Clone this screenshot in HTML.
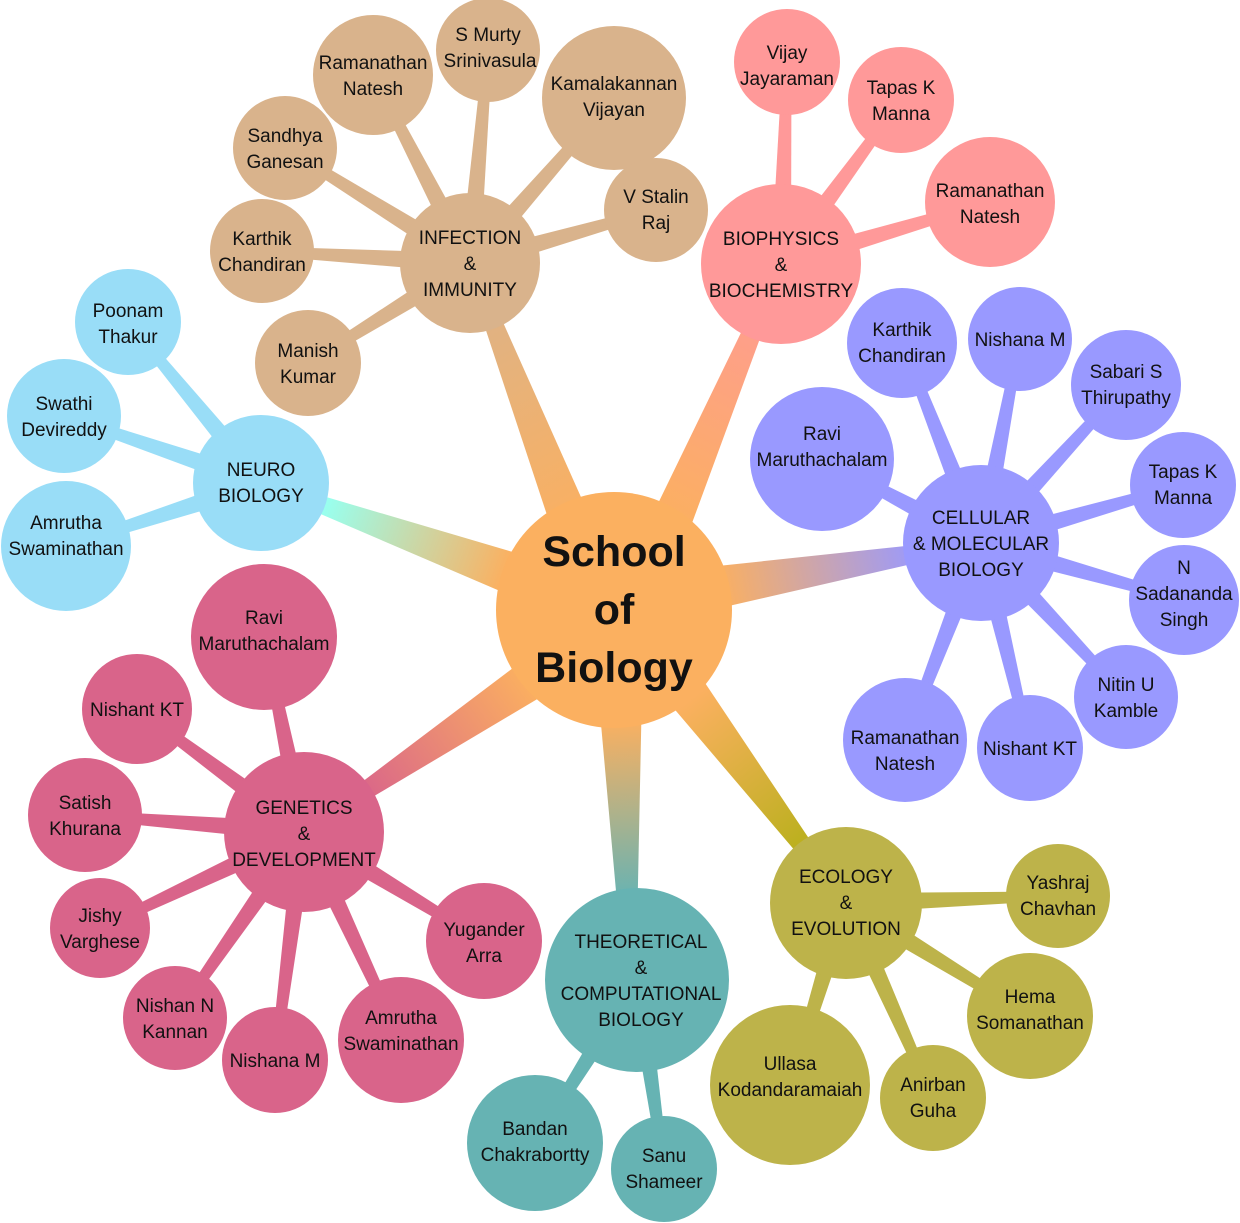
<!DOCTYPE html>
<html><head><meta charset="utf-8">
<style>
html,body{margin:0;padding:0;background:#fff;}
svg{display:block;}
text{font-family:"Liberation Sans",sans-serif;font-size:19px;fill:#111;text-anchor:middle;}
.c{font-size:43px;font-weight:bold;}
</style></head><body>
<svg id="s" width="1240" height="1223" viewBox="0 0 1240 1223" xmlns="http://www.w3.org/2000/svg">
<defs>
<linearGradient id="gInf" gradientUnits="userSpaceOnUse" x1="600" y1="520" x2="470" y2="263"><stop offset="0" stop-color="#FBB060"/><stop offset="1" stop-color="#D9B38C"/></linearGradient>
<linearGradient id="gBio" gradientUnits="userSpaceOnUse" x1="660" y1="520" x2="781" y2="264"><stop offset="0" stop-color="#FBB060"/><stop offset="1" stop-color="#FF9999"/></linearGradient>
<linearGradient id="gCel" gradientUnits="userSpaceOnUse" x1="720" y1="590" x2="920" y2="550"><stop offset="0" stop-color="#FBB060"/><stop offset="1" stop-color="#9999FF"/></linearGradient>
<linearGradient id="gNeu" gradientUnits="userSpaceOnUse" x1="510" y1="560" x2="330" y2="495"><stop offset="0" stop-color="#FBB060"/><stop offset="1" stop-color="#99FFEE"/></linearGradient>
<linearGradient id="gGen" gradientUnits="userSpaceOnUse" x1="530" y1="680" x2="360" y2="800"><stop offset="0" stop-color="#FBB060"/><stop offset="1" stop-color="#D9648A"/></linearGradient>
<linearGradient id="gThe" gradientUnits="userSpaceOnUse" x1="622" y1="720" x2="630" y2="900"><stop offset="0" stop-color="#FBB060"/><stop offset="1" stop-color="#66B3B3"/></linearGradient>
<linearGradient id="gEco" gradientUnits="userSpaceOnUse" x1="690" y1="700" x2="800" y2="840"><stop offset="0" stop-color="#FBB060"/><stop offset="1" stop-color="#BDB020"/></linearGradient>
</defs>
<g id="conn"></g>
<g id="circ">
<circle cx="614" cy="610" r="118" fill="#FBB060"/>
<g fill="#D9B38C">
<circle cx="470" cy="263" r="70"/>
<circle cx="373" cy="75" r="60"/><circle cx="488" cy="50" r="52"/><circle cx="614" cy="98" r="72"/>
<circle cx="285" cy="148" r="52"/><circle cx="656" cy="210" r="52"/><circle cx="262" cy="251" r="52"/><circle cx="308" cy="363" r="53"/>
</g>
<g fill="#FF9999">
<circle cx="781" cy="264" r="80"/><circle cx="787" cy="62" r="53"/><circle cx="901" cy="100" r="53"/><circle cx="990" cy="202" r="65"/>
</g>
<g fill="#9999FF">
<circle cx="981" cy="543" r="78"/><circle cx="902" cy="343" r="55"/><circle cx="1020" cy="339" r="52"/><circle cx="1126" cy="385" r="55"/>
<circle cx="822" cy="459" r="72"/><circle cx="1183" cy="485" r="53"/><circle cx="1184" cy="600" r="55"/><circle cx="1126" cy="697" r="52"/>
<circle cx="905" cy="740" r="62"/><circle cx="1030" cy="748" r="53"/>
</g>
<g fill="#99DDF7">
<circle cx="261" cy="483" r="68"/><circle cx="128" cy="322" r="53"/><circle cx="64" cy="416" r="57"/><circle cx="66" cy="546" r="65"/>
</g>
<g fill="#D9648A">
<circle cx="304" cy="832" r="80"/><circle cx="264" cy="637" r="73"/><circle cx="137" cy="709" r="55"/><circle cx="85" cy="815" r="57"/>
<circle cx="100" cy="928" r="50"/><circle cx="175" cy="1018" r="52"/><circle cx="275" cy="1060" r="53"/><circle cx="401" cy="1040" r="63"/><circle cx="484" cy="941" r="58"/>
</g>
<g fill="#66B3B3">
<circle cx="637" cy="980" r="92"/><circle cx="535" cy="1143" r="68"/><circle cx="664" cy="1169" r="53"/>
</g>
<g fill="#BDB34A">
<circle cx="846" cy="903" r="76"/><circle cx="1058" cy="896" r="52"/><circle cx="1030" cy="1016" r="63"/><circle cx="933" cy="1098" r="53"/><circle cx="790" cy="1085" r="80"/>
</g>
</g>
<g>
<text class="c" x="614" y="566">School</text><text class="c" x="614" y="624">of</text><text class="c" x="614" y="682">Biology</text>

<text x="470" y="244">INFECTION</text><text x="470" y="270">&amp;</text><text x="470" y="296">IMMUNITY</text>
<text x="373" y="69">Ramanathan</text><text x="373" y="95">Natesh</text>
<text x="488" y="41">S Murty</text><text x="490" y="67">Srinivasula</text>
<text x="614" y="90">Kamalakannan</text><text x="614" y="116">Vijayan</text>
<text x="285" y="142">Sandhya</text><text x="285" y="168">Ganesan</text>
<text x="656" y="203">V Stalin</text><text x="656" y="229">Raj</text>
<text x="262" y="245">Karthik</text><text x="262" y="271">Chandiran</text>
<text x="308" y="357">Manish</text><text x="308" y="383">Kumar</text>

<text x="781" y="245">BIOPHYSICS</text><text x="781" y="271">&amp;</text><text x="781" y="297">BIOCHEMISTRY</text>
<text x="787" y="59">Vijay</text><text x="787" y="85">Jayaraman</text>
<text x="901" y="94">Tapas K</text><text x="901" y="120">Manna</text>
<text x="990" y="197">Ramanathan</text><text x="990" y="223">Natesh</text>

<text x="981" y="524">CELLULAR</text><text x="981" y="550">&amp; MOLECULAR</text><text x="981" y="576">BIOLOGY</text>
<text x="902" y="336">Karthik</text><text x="902" y="362">Chandiran</text>
<text x="1020" y="346">Nishana M</text>
<text x="1126" y="378">Sabari S</text><text x="1126" y="404">Thirupathy</text>
<text x="822" y="440">Ravi</text><text x="822" y="466">Maruthachalam</text>
<text x="1183" y="478">Tapas K</text><text x="1183" y="504">Manna</text>
<text x="1184" y="574">N</text><text x="1184" y="600">Sadananda</text><text x="1184" y="626">Singh</text>
<text x="1126" y="691">Nitin U</text><text x="1126" y="717">Kamble</text>
<text x="905" y="744">Ramanathan</text><text x="905" y="770">Natesh</text>
<text x="1030" y="755">Nishant KT</text>

<text x="261" y="476">NEURO</text><text x="261" y="502">BIOLOGY</text>
<text x="128" y="317">Poonam</text><text x="128" y="343">Thakur</text>
<text x="64" y="410">Swathi</text><text x="64" y="436">Devireddy</text>
<text x="66" y="529">Amrutha</text><text x="66" y="555">Swaminathan</text>

<text x="304" y="814">GENETICS</text><text x="304" y="840">&amp;</text><text x="304" y="866">DEVELOPMENT</text>
<text x="264" y="624">Ravi</text><text x="264" y="650">Maruthachalam</text>
<text x="137" y="716">Nishant KT</text>
<text x="85" y="809">Satish</text><text x="85" y="835">Khurana</text>
<text x="100" y="922">Jishy</text><text x="100" y="948">Varghese</text>
<text x="175" y="1012">Nishan N</text><text x="175" y="1038">Kannan</text>
<text x="275" y="1067">Nishana M</text>
<text x="401" y="1024">Amrutha</text><text x="401" y="1050">Swaminathan</text>
<text x="484" y="936">Yugander</text><text x="484" y="962">Arra</text>

<text x="641" y="948">THEORETICAL</text><text x="641" y="974">&amp;</text><text x="641" y="1000">COMPUTATIONAL</text><text x="641" y="1026">BIOLOGY</text>
<text x="535" y="1135">Bandan</text><text x="535" y="1161">Chakrabortty</text>
<text x="664" y="1162">Sanu</text><text x="664" y="1188">Shameer</text>

<text x="846" y="883">ECOLOGY</text><text x="846" y="909">&amp;</text><text x="846" y="935">EVOLUTION</text>
<text x="1058" y="889">Yashraj</text><text x="1058" y="915">Chavhan</text>
<text x="1030" y="1003">Hema</text><text x="1030" y="1029">Somanathan</text>
<text x="933" y="1091">Anirban</text><text x="933" y="1117">Guha</text>
<text x="790" y="1070">Ullasa</text><text x="790" y="1096">Kodandaramaiah</text>
</g>
</svg>
<script>
(function(){
var g=document.getElementById('conn');var NS='http://www.w3.org/2000/svg';
function t(ax,ay,bx,by,wa,wb,fill){
 var dx=bx-ax,dy=by-ay,l=Math.sqrt(dx*dx+dy*dy),nx=-dy/l,ny=dx/l;
 var p=[[ax+nx*wa/2,ay+ny*wa/2],[bx+nx*wb/2,by+ny*wb/2],[bx-nx*wb/2,by-ny*wb/2],[ax-nx*wa/2,ay-ny*wa/2]];
 var e=document.createElementNS(NS,'polygon');e.setAttribute('points',p.map(function(q){return q.join(',')}).join(' '));e.setAttribute('fill',fill);g.appendChild(e);
}
t(585,560,470,263,44,12,'url(#gInf)');
t(655,560,781,264,44,12,'url(#gBio)');
t(700,590,981,543,44,10,'url(#gCel)');
t(530,580,261,483,44,10,'url(#gNeu)');
t(560,660,304,832,44,10,'url(#gGen)');
t(620,690,630,980,44,12,'url(#gThe)');
t(670,670,846,903,44,10,'url(#gEco)');
function kids(p,list,col,w0){list.forEach(function(k){t(p[0],p[1],k[0],k[1],w0,9,col);});}
kids([470,263],[[373,75],[488,50],[614,98],[285,148],[656,210],[262,251],[308,363]],'#D9B38C',20);
kids([781,264],[[787,62],[901,100],[990,202]],'#FF9999',20);
kids([981,543],[[902,343],[1020,339],[1126,385],[822,459],[1183,485],[1184,600],[1126,697],[905,740],[1030,748]],'#9999FF',20);
kids([261,483],[[128,322],[64,416],[66,546]],'#99DDF7',20);
kids([304,832],[[264,637],[137,709],[85,815],[100,928],[175,1018],[275,1060],[401,1040],[484,941]],'#D9648A',20);
kids([637,980],[[535,1143],[664,1169]],'#66B3B3',20);
kids([846,903],[[1058,896],[1030,1016],[933,1098],[790,1085]],'#BDB34A',20);
})();
</script>
</body></html>
